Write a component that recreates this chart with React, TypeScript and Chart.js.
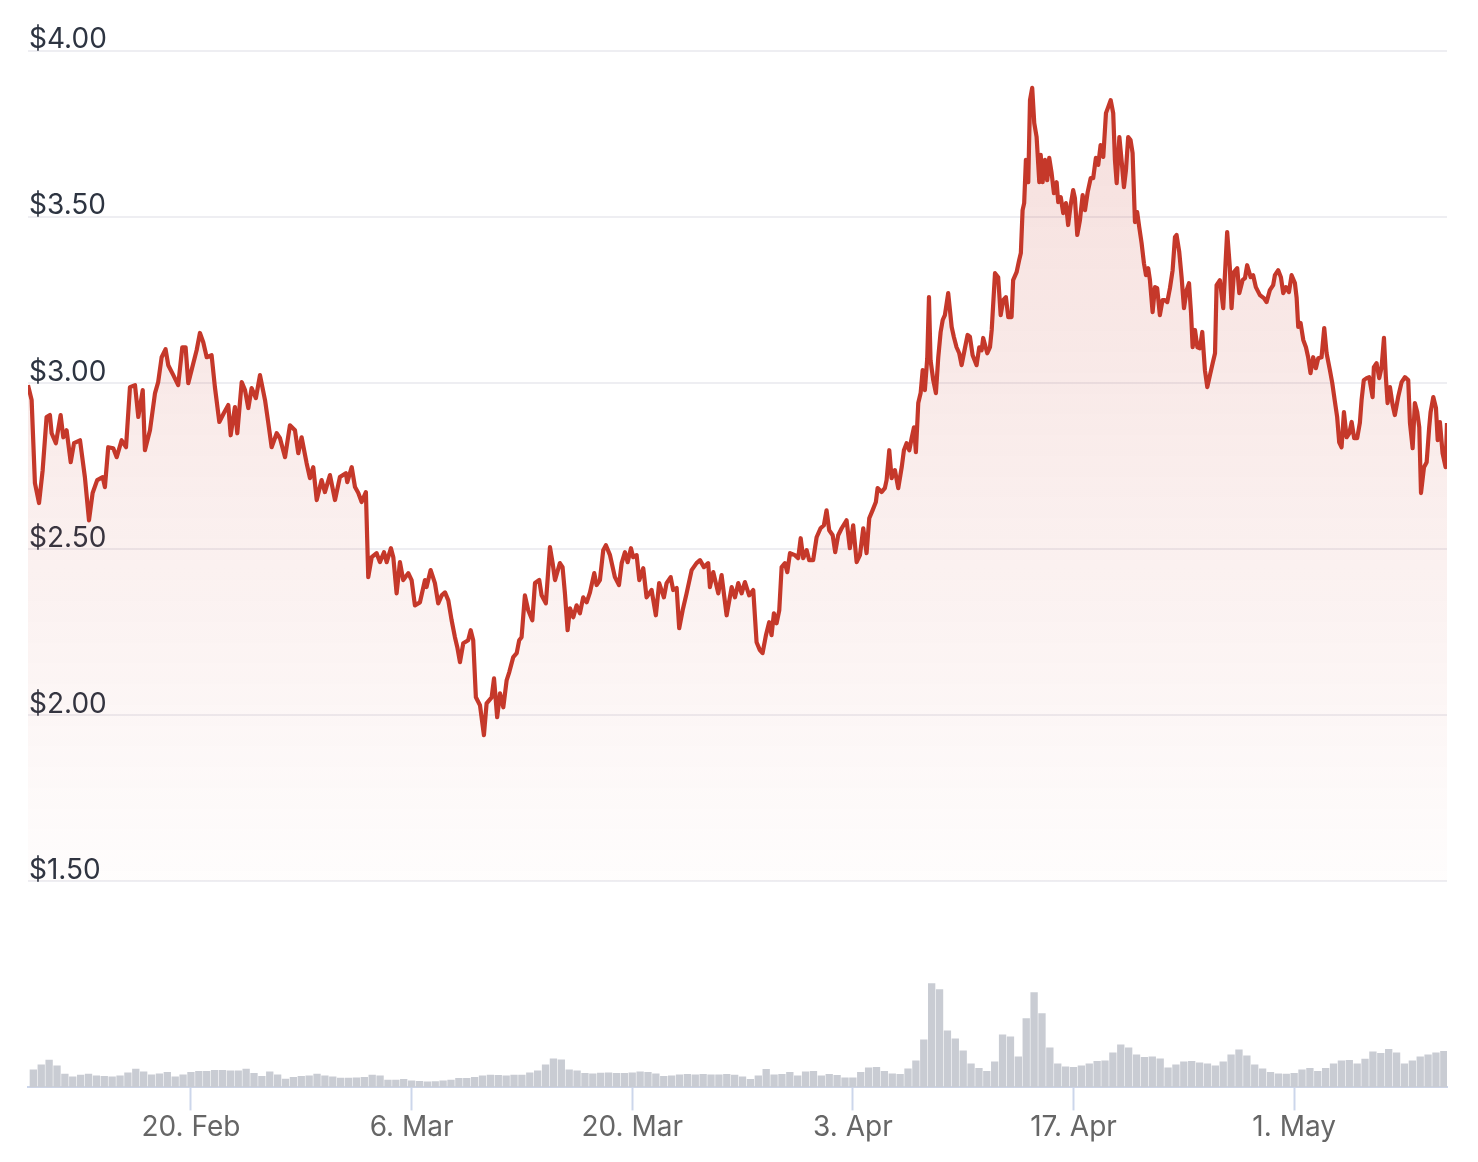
import React, { useEffect, useRef } from 'react';
import { Chart, registerables } from 'chart.js';

Chart.register(...registerables);

// Days counted from 10 Feb (day 0)
const tickDays = [10, 24, 38, 52, 66, 80];
const tickLabels = ['20. Feb', '6. Mar', '20. Mar', '3. Apr', '17. Apr', '1. May'];
const priceTicks = [1.5, 2, 2.5, 3, 3.5, 4];

const priceDays = [
  -0.34, -0.11, 0.10, 0.36, 0.59, 0.84, 1.05, 1.16, 1.43, 1.73, 1.90, 2.11, 2.37, 2.58, 2.96, 3.27, 3.53, 3.76, 4.05, 4.40,
  4.54, 4.75, 5.07, 5.29, 5.60, 5.88, 6.13, 6.45, 6.66, 6.94, 7.08, 7.40, 7.72, 7.92, 8.14, 8.39, 8.56, 8.88, 9.19, 9.45,
  9.66, 9.83, 10.15, 10.36, 10.57, 10.78, 11.00, 11.31, 11.52, 11.80, 12.09, 12.37, 12.52, 12.79, 12.94, 13.22, 13.43, 13.64, 13.85, 14.12,
  14.38, 14.70, 14.90, 15.12, 15.44, 15.65, 15.97, 16.28, 16.60, 16.81, 17.02, 17.34, 17.55, 17.76, 17.98, 18.29, 18.50, 18.82, 19.14, 19.45,
  19.83, 19.92, 20.20, 20.41, 20.62, 20.83, 21.10, 21.25, 21.47, 21.78, 21.99, 22.25, 22.42, 22.69, 22.84, 23.05, 23.26, 23.47, 23.79, 24.00,
  24.21, 24.53, 24.85, 24.95, 25.21, 25.48, 25.69, 25.91, 26.12, 26.33, 26.54, 26.75, 26.90, 27.07, 27.28, 27.59, 27.75, 27.91, 28.08, 28.34,
  28.59, 28.76, 29.08, 29.23, 29.43, 29.61, 29.82, 30.03, 30.20, 30.45, 30.67, 30.83, 30.98, 31.19, 31.40, 31.66, 31.83, 32.10, 32.25, 32.52,
  32.78, 32.95, 33.10, 33.41, 33.58, 33.73, 33.90, 34.05, 34.26, 34.47, 34.68, 34.89, 35.11, 35.32, 35.59, 35.74, 35.95, 36.16, 36.33, 36.59,
  36.90, 37.16, 37.33, 37.54, 37.71, 37.92, 38.06, 38.28, 38.45, 38.70, 38.91, 39.23, 39.50, 39.71, 40.01, 40.18, 40.44, 40.60, 40.82, 40.98,
  41.20, 41.45, 41.77, 42.08, 42.30, 42.55, 42.82, 42.93, 43.14, 43.46, 43.67, 43.99, 44.31, 44.52, 44.73, 44.94, 45.15, 45.42, 45.68, 45.89,
  46.10, 46.27, 46.48, 46.69, 46.84, 46.99, 47.16, 47.33, 47.48, 47.69, 47.84, 48.01, 48.32, 48.53, 48.69, 48.85, 49.07, 49.23, 49.48, 49.70,
  49.95, 50.16, 50.33, 50.50, 50.72, 50.88, 51.07, 51.29, 51.60, 51.81, 52.02, 52.24, 52.45, 52.66, 52.87, 53.04, 53.25, 53.46, 53.57, 53.82,
  54.03, 54.14, 54.31, 54.46, 54.67, 54.88, 55.10, 55.24, 55.41, 55.58, 55.73, 55.88, 56.00, 56.15, 56.30, 56.43, 56.57, 56.72, 56.83, 56.93,
  57.10, 57.27, 57.42, 57.57, 57.70, 57.84, 58.05, 58.27, 58.41, 58.58, 58.75, 58.90, 59.11, 59.28, 59.43, 59.60, 59.85, 60.02, 60.17, 60.27,
  60.53, 60.70, 60.81, 61.02, 61.22, 61.38, 61.54, 61.71, 61.86, 62.07, 62.17, 62.39, 62.55, 62.66, 62.77, 62.87, 62.98, 63.13, 63.24, 63.38,
  63.51, 63.66, 63.83, 63.92, 64.04, 64.19, 64.33, 64.46, 64.61, 64.76, 64.93, 65.03, 65.19, 65.35, 65.52, 65.66, 65.82, 65.98, 66.09, 66.24,
  66.41, 66.58, 66.73, 66.90, 67.09, 67.25, 67.42, 67.57, 67.72, 67.89, 68.06, 68.20, 68.36, 68.52, 68.63, 68.74, 68.91, 69.06, 69.20, 69.33,
  69.47, 69.62, 69.75, 69.90, 70.04, 70.17, 70.32, 70.47, 70.60, 70.74, 70.85, 71.02, 71.17, 71.31, 71.48, 71.65, 71.80, 71.95, 72.12, 72.29,
  72.44, 72.54, 72.71, 72.86, 73.01, 73.18, 73.33, 73.46, 73.56, 73.71, 73.86, 74.02, 74.17, 74.34, 74.49, 74.66, 74.83, 74.98, 75.08, 75.29,
  75.50, 75.75, 75.92, 76.03, 76.18, 76.39, 76.52, 76.73, 76.88, 77.02, 77.24, 77.40, 77.57, 77.83, 78.08, 78.25, 78.46, 78.67, 78.78, 78.99,
  79.16, 79.31, 79.48, 79.67, 79.84, 80.05, 80.16, 80.26, 80.41, 80.58, 80.75, 80.89, 81.04, 81.21, 81.38, 81.53, 81.74, 81.91, 82.06, 82.27,
  82.42, 82.59, 82.73, 82.86, 83.01, 83.16, 83.33, 83.50, 83.65, 83.81, 84.00, 84.17, 84.28, 84.42, 84.60, 84.76, 84.98, 85.06, 85.23, 85.40,
  85.55, 85.70, 85.82, 85.93, 86.08, 86.25, 86.39, 86.60, 86.82, 87.03, 87.24, 87.35, 87.52, 87.66, 87.81, 87.94, 88.05, 88.24, 88.41, 88.57,
  88.66, 88.83, 89.00, 89.11, 89.25, 89.42, 89.61, 89.70,
];

const priceValues = [
  2.994, 2.949, 2.699, 2.639, 2.738, 2.898, 2.904, 2.849, 2.819, 2.904, 2.837, 2.858, 2.762, 2.819, 2.828, 2.717, 2.587, 2.669, 2.708, 2.717,
  2.687, 2.807, 2.804, 2.777, 2.828, 2.807, 2.988, 2.994, 2.898, 2.979, 2.798, 2.858, 2.970, 3.003, 3.078, 3.102, 3.054, 3.024, 2.994, 3.108,
  3.108, 3.000, 3.060, 3.099, 3.151, 3.123, 3.078, 3.084, 2.988, 2.883, 2.910, 2.934, 2.843, 2.928, 2.849, 3.003, 2.979, 2.925, 2.985, 2.955,
  3.024, 2.949, 2.883, 2.807, 2.849, 2.834, 2.777, 2.873, 2.858, 2.789, 2.837, 2.759, 2.714, 2.747, 2.648, 2.708, 2.672, 2.723, 2.648, 2.717,
  2.729, 2.702, 2.747, 2.687, 2.669, 2.642, 2.672, 2.416, 2.476, 2.488, 2.461, 2.491, 2.461, 2.503, 2.476, 2.367, 2.461, 2.407, 2.428, 2.407,
  2.331, 2.340, 2.407, 2.386, 2.437, 2.398, 2.337, 2.361, 2.370, 2.346, 2.286, 2.235, 2.205, 2.160, 2.217, 2.226, 2.256, 2.226, 2.054, 2.030,
  1.940, 2.036, 2.054, 2.111, 1.994, 2.066, 2.024, 2.105, 2.130, 2.175, 2.187, 2.226, 2.235, 2.361, 2.316, 2.286, 2.398, 2.407, 2.361, 2.337,
  2.506, 2.458, 2.407, 2.458, 2.446, 2.367, 2.256, 2.322, 2.295, 2.331, 2.307, 2.355, 2.340, 2.370, 2.428, 2.392, 2.407, 2.497, 2.512, 2.482,
  2.416, 2.392, 2.458, 2.491, 2.461, 2.503, 2.476, 2.482, 2.407, 2.443, 2.355, 2.377, 2.301, 2.398, 2.355, 2.398, 2.416, 2.377, 2.383, 2.262,
  2.316, 2.367, 2.437, 2.458, 2.467, 2.446, 2.458, 2.386, 2.431, 2.367, 2.422, 2.301, 2.386, 2.355, 2.398, 2.367, 2.401, 2.361, 2.377, 2.220,
  2.196, 2.187, 2.240, 2.280, 2.241, 2.307, 2.277, 2.316, 2.446, 2.458, 2.431, 2.488, 2.482, 2.473, 2.533, 2.473, 2.497, 2.467, 2.467, 2.536,
  2.563, 2.572, 2.617, 2.557, 2.542, 2.491, 2.542, 2.563, 2.587, 2.503, 2.572, 2.461, 2.482, 2.563, 2.488, 2.593, 2.617, 2.642, 2.684, 2.672,
  2.684, 2.708, 2.798, 2.714, 2.738, 2.684, 2.747, 2.798, 2.819, 2.798, 2.834, 2.867, 2.792, 2.940, 2.970, 3.039, 2.979, 3.075, 3.259, 3.069,
  3.009, 2.970, 3.078, 3.154, 3.190, 3.205, 3.271, 3.169, 3.139, 3.108, 3.090, 3.054, 3.105, 3.145, 3.139, 3.084, 3.054, 3.108, 3.099, 3.136,
  3.090, 3.108, 3.160, 3.331, 3.319, 3.205, 3.250, 3.259, 3.199, 3.199, 3.310, 3.334, 3.370, 3.392, 3.521, 3.542, 3.672, 3.605, 3.852, 3.889,
  3.783, 3.741, 3.605, 3.687, 3.605, 3.672, 3.611, 3.678, 3.633, 3.572, 3.605, 3.545, 3.560, 3.512, 3.542, 3.476, 3.536, 3.581, 3.557, 3.446,
  3.491, 3.566, 3.521, 3.575, 3.617, 3.617, 3.678, 3.657, 3.717, 3.681, 3.813, 3.831, 3.852, 3.813, 3.672, 3.602, 3.741, 3.666, 3.590, 3.642,
  3.741, 3.732, 3.693, 3.485, 3.515, 3.470, 3.422, 3.361, 3.325, 3.346, 3.310, 3.214, 3.289, 3.286, 3.205, 3.250, 3.250, 3.244, 3.286, 3.340,
  3.440, 3.446, 3.395, 3.319, 3.226, 3.280, 3.301, 3.211, 3.108, 3.160, 3.108, 3.105, 3.154, 3.039, 2.988, 3.024, 3.060, 3.090, 3.295, 3.310,
  3.226, 3.455, 3.349, 3.226, 3.334, 3.346, 3.271, 3.310, 3.316, 3.355, 3.319, 3.325, 3.289, 3.265, 3.256, 3.244, 3.280, 3.295, 3.325, 3.340,
  3.319, 3.271, 3.289, 3.274, 3.325, 3.301, 3.256, 3.169, 3.181, 3.130, 3.108, 3.078, 3.030, 3.078, 3.045, 3.075, 3.078, 3.166, 3.090, 3.039,
  3.000, 2.943, 2.898, 2.822, 2.807, 2.913, 2.837, 2.849, 2.883, 2.834, 2.834, 2.880, 2.949, 3.009, 3.015, 3.018, 2.958, 3.048, 3.060, 3.015,
  3.048, 3.136, 3.018, 2.940, 2.988, 2.934, 2.904, 2.958, 3.003, 3.018, 3.009, 2.880, 2.804, 2.940, 2.913, 2.867, 2.669, 2.747, 2.762, 2.867,
  2.913, 2.958, 2.925, 2.828, 2.883, 2.789, 2.747, 2.880,
];

// Volume (millions), one bar every half day starting at day 0
const volumeStepDays = 0.5;
const volumeValues = [
  18, 23, 27.7, 22, 13.7, 11, 12.7, 13.7, 12, 11.5, 11, 12, 15, 18.7, 16, 13, 14, 15.3, 11, 13,
  15.5, 16.3, 16.3, 17.5, 17.5, 17, 17, 18.7, 14.5, 11.5, 16, 13, 8.7, 10.5, 11.5, 12, 13.7, 12, 11, 9.7,
  9.7, 10, 10.3, 12.7, 12, 7.7, 7.7, 8.5, 7, 6.3, 6, 6.2, 7, 7.7, 9.3, 9.3, 10.3, 12, 12.7, 12.3,
  12, 12.7, 12.7, 15, 17, 23, 29, 28, 18, 17, 14.5, 14, 14.6, 15, 14.3, 14.3, 15, 16, 15.3, 13.8,
  11.5, 12, 13, 13.5, 12.8, 13.5, 13, 13, 13.5, 12.7, 11, 8.5, 12, 18.5, 13, 13.5, 15.5, 12, 16, 16.5,
  12, 13.5, 12.5, 10, 10, 15.5, 20, 20.5, 16.5, 14, 13.5, 19, 27, 48, 104, 98, 57, 49, 37, 24,
  19.5, 16.5, 26, 53, 51, 31, 69, 95, 74, 40, 24, 21, 20.3, 22, 24, 26.5, 27, 35, 43, 40,
  33, 30.5, 31, 29, 20, 23, 26, 26.5, 25, 24, 22, 26, 33, 38, 32, 23, 19, 15.5, 14, 13.7,
  14.5, 18, 19.3, 16.5, 19.5, 24, 27, 27.5, 24, 28.7, 36, 34.5, 38.5, 35, 24, 27, 31, 33, 35, 36.5,
];

const FONT = 'Inter, "Liberation Sans", sans-serif';

export default function App() {
  const canvasRef = useRef<HTMLCanvasElement | null>(null);

  useEffect(() => {
    const canvas = canvasRef.current;
    if (!canvas) return;

    const priceData = priceDays.map((d, i) => ({ x: d, y: priceValues[i] }));
    const volumeData = volumeValues.map((v, i) => ({ x: i * volumeStepDays, y: v }));

    const chart = new Chart(canvas, {
      type: 'line',
      data: {
        datasets: [
          {
            type: 'line',
            label: 'Price',
            data: priceData,
            xAxisID: 'x',
            yAxisID: 'y',
            borderColor: '#c5382a',
            borderWidth: 4.2,
            pointRadius: 0,
            tension: 0,
            borderJoinStyle: 'round',
            fill: 'start',
            backgroundColor: (ctx: any) => {
              const c = ctx.chart;
              const area = c.chartArea;
              const ys = c.scales && c.scales.y;
              if (!area || !ys) return 'rgba(197,56,42,0.1)';
              const g = c.ctx.createLinearGradient(0, ys.top, 0, ys.bottom);
              g.addColorStop(0, 'rgba(197,56,42,0.17)');
              g.addColorStop(1, 'rgba(197,56,42,0.01)');
              return g;
            },
            order: 0,
          } as any,
          {
            type: 'bar',
            label: 'Volume',
            data: volumeData,
            xAxisID: 'x',
            yAxisID: 'yv',
            backgroundColor: '#c9ccd3',
            borderWidth: 0,
            barPercentage: 0.93,
            categoryPercentage: 1,
            order: 1,
          } as any,
        ],
      },
      options: {
        animation: false,
        responsive: true,
        maintainAspectRatio: false,
        layout: { padding: { left: 12, right: 23, top: 43, bottom: 10 } },
        plugins: {
          legend: { display: false },
          tooltip: { enabled: false },
        },
        scales: {
          x: {
            type: 'linear',
            min: -0.34,
            max: 89.7,
            offset: false,
            afterBuildTicks: (scale: any) => {
              scale.ticks = tickDays.map((v) => ({ value: v }));
            },
            ticks: {
              autoSkip: false,
              maxRotation: 0,
              padding: 0,
              color: '#666666',
              font: { size: 28, family: FONT },
              callback: (_v: any, i: number) => tickLabels[i],
            },
            grid: {
              offset: false,
              drawOnChartArea: false,
              drawTicks: true,
              tickLength: 23,
              tickColor: '#ccd6eb',
              tickWidth: 2,
            },
            border: { display: true, color: '#ccd6eb', width: 2 },
          },
          yv: {
            type: 'linear',
            position: 'left',
            stack: 'main',
            stackWeight: 206,
            min: 0,
            max: 206,
            ticks: { display: false },
            grid: { display: false },
            border: { display: false },
          },
          y: {
            type: 'linear',
            position: 'left',
            stack: 'main',
            stackWeight: 830,
            min: 1.5,
            max: 4,
            afterBuildTicks: (scale: any) => {
              scale.ticks = priceTicks.map((v) => ({ value: v }));
            },
            ticks: {
              mirror: true,
              padding: 1,
              labelOffset: -11,
              color: '#2d3441',
              font: { size: 28, family: FONT },
              callback: (v: any) => '$' + Number(v).toFixed(2),
            },
            grid: { color: '#eeeef2', lineWidth: 2, drawTicks: false },
            border: { display: false },
          },
        } as any,
      },
    });

    return () => chart.destroy();
  }, []);

  return (
    <div style={{ position: 'relative', width: '100%', height: 1146 }}>
      <canvas ref={canvasRef} style={{ display: 'block' }} />
    </div>
  );
}
